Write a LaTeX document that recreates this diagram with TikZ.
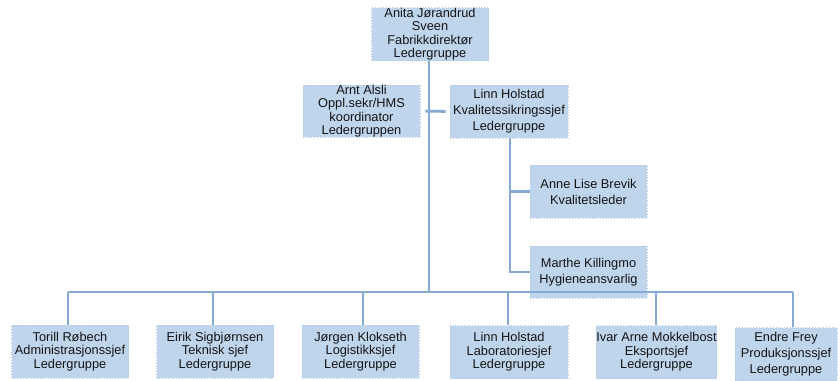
\documentclass[tikz,border=0pt]{standalone}
\usepackage{fontspec}
\setmainfont{Liberation Sans}
\definecolor{boxfill}{HTML}{BFD5EC}
\definecolor{boxline}{HTML}{B3CCE6}
\definecolor{conn}{HTML}{86AAD4}
\definecolor{txt}{HTML}{141414}
\begin{document}
\begin{tikzpicture}[x=1pt,y=-1pt,
  box/.style={draw=boxline,fill=boxfill,line width=0.8pt,dotted,inner sep=0pt,
    minimum width=117pt,minimum height=53pt,align=center,text=txt,
    font=\fontsize{12.8pt}{13.4pt}\selectfont},
  wide/.style={font=\fontsize{12.8pt}{16pt}\selectfont},
  link/.style={draw=conn,line width=2.8pt}]
\useasboundingbox (0,0) rectangle (840,380);
\fill[white] (0,0) rectangle (840,380);
% boxes
\node[box] (top) at (430,34) {Anita Jørandrud\\Sveen\\Fabrikkdirektør\\Ledergruppe};
\node[box,minimum height=52pt] (arnt) at (361.5,111) {Arnt Alsli\\Oppl.sekr/HMS\\koordinator\\Ledergruppen};
\node[box,wide,minimum width=118pt] (linn) at (509,111.5) {Linn Holstad\\Kvalitetssikringssjef\\Ledergruppe};
\node[box,wide] (anne) at (588.5,191.5) {Anne Lise Brevik\\Kvalitetsleder};
\node[box,wide,minimum height=52pt] (marthe) at (588.5,272) {Marthe Killingmo\\Hygieneansvarlig};
\node[box] (b1) at (70,351.5) {Torill Røbech\\Administrasjonssjef\\Ledergruppe};
\node[box] (b2) at (215,351.5) {Eirik Sigbjørnsen\\Teknisk sjef\\Ledergruppe};
\node[box] (b3) at (360.5,351.5) {Jørgen Klokseth\\Logistikksjef\\Ledergruppe};
\node[box,minimum width=118pt] (b4) at (509,352) {Linn Holstad\\Laboratoriesjef\\Ledergruppe};
\node[box] (b5) at (656.5,352) {Ivar Arne Mokkelbost\\Eksportsjef\\Ledergruppe};
\node[box,wide,minimum width=102pt] (b6) at (786,354) {Endre Frey\\Produksjonssjef\\Ledergruppe};
% coordinates
\coordinate (bus) at (429,292);
\coordinate (busL) at (68,292);
\coordinate (busR) at (793,292);
\coordinate (sub) at (510,272);
% connectors
\draw[link] (top.south -| bus) -- (bus);
\draw[link,shorten <=5pt,shorten >=4pt] (arnt.east) -- (linn.west);
\draw[link] (busL) -- (busR);
\foreach \b/\x in {b1/68,b2/213,b3/363,b4/508,b5/656,b6/793}
  \draw[link] (\x,292) -- (\b.north -| \x,0);
\draw[link,line width=2.2pt] (linn.south -| sub) -- (sub) -- (marthe.west);
\draw[link,line width=2.2pt] (linn.south -| sub) |- (anne.west);
\end{tikzpicture}
\end{document}
